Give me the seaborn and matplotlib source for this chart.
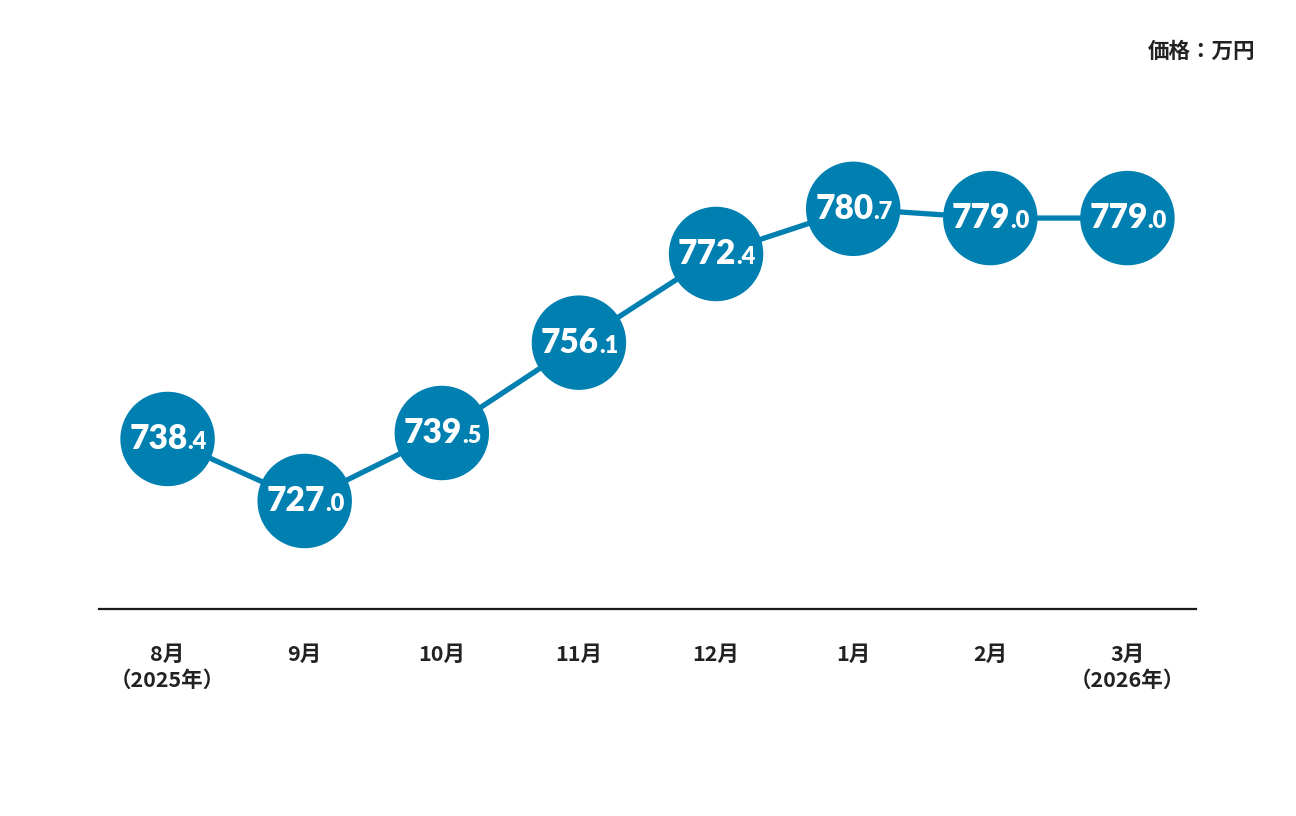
import matplotlib.pyplot as plt
import seaborn as sns
import pandas as pd

months = ["8月\n（2025年）", "9月", "10月", "11月", "12月", "1月", "2月", "3月\n（2026年）"]
prices = [738.4, 727.0, 739.5, 756.1, 772.4, 780.7, 779.0, 779.0]

blue = "#007fb1"
df = pd.DataFrame({"x": range(len(prices)), "price": prices})

sns.set_theme(style="white")
plt.rcParams["font.family"] = ["Noto Sans CJK JP", "DejaVu Sans"]

fig = plt.figure(figsize=(12.96, 8.16), dpi=100, facecolor="white")
ax = fig.add_axes([99 / 1296, (816 - 609) / 816, 1097 / 1296, 509 / 816])

sns.lineplot(data=df, x="x", y="price", ax=ax, color=blue, linewidth=3.8, zorder=1)
sns.scatterplot(data=df, x="x", y="price", ax=ax, color=blue, s=68 ** 2,
                edgecolor="none", zorder=2, legend=False)

# whole part large, decimal part small, joined at a fixed offset from centre
for i, v in enumerate(prices):
    whole, dec = f"{v:.1f}".split(".")
    ax.annotate(whole, (i, v), xytext=(14.5, -7.5), textcoords="offset points",
                ha="right", va="baseline", color="white", fontsize=24,
                fontweight="heavy", family=["Lato", "DejaVu Sans"], zorder=3)
    ax.annotate("." + dec, (i, v), xytext=(14.5, -7.5), textcoords="offset points",
                ha="left", va="baseline", color="white", fontsize=17,
                fontweight="heavy", family=["Lato", "DejaVu Sans"], zorder=3)

ax.set_xlim(-0.5, 7.5)
ax.set_ylim(707.15, 800.7)
ax.set_xticks(range(len(months)))
ax.set_xticklabels(months, fontsize=15.5, fontweight="bold", color="#222222",
                   linespacing=1.3)
ax.tick_params(axis="x", length=0, pad=25)
ax.set_yticks([])
ax.set_xlabel("")
ax.set_ylabel("")
for side in ["top", "left", "right"]:
    ax.spines[side].set_visible(False)
ax.spines["bottom"].set_color("#1a1a1a")
ax.spines["bottom"].set_linewidth(1.6)

fig.text(1255 / 1296, 1 - 51 / 816, "価格：万円", ha="right", va="center",
         fontsize=15.5, fontweight="bold", color="#222222")

fig.savefig("out.png", dpi=100, facecolor="white")
